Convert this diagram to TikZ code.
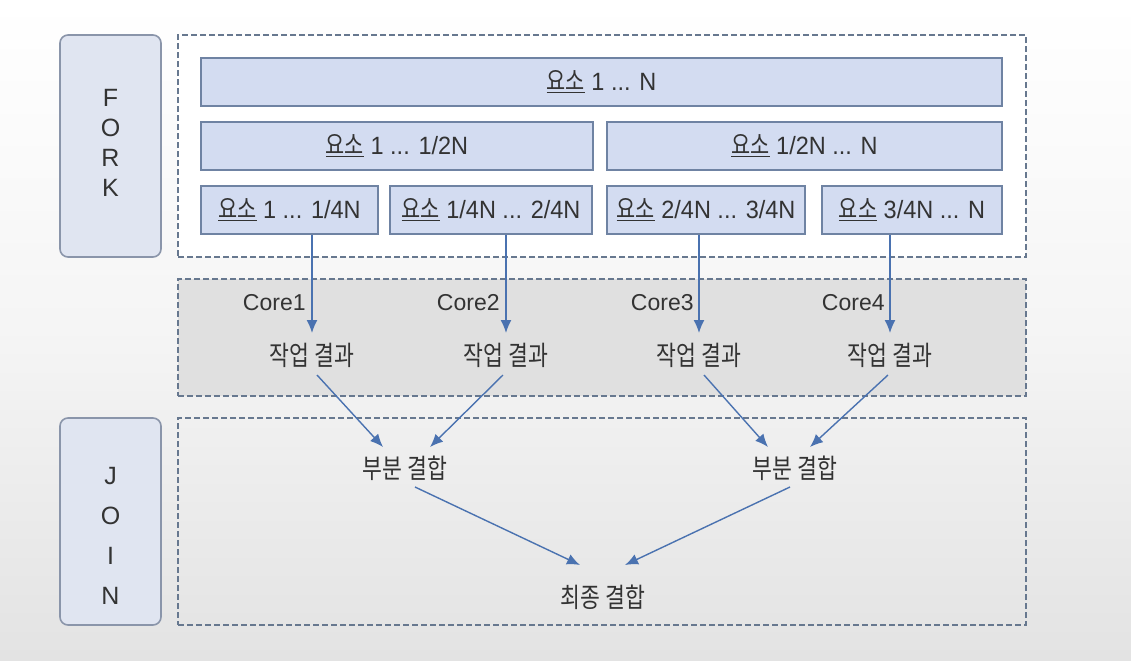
\documentclass[tikz,border=0pt]{standalone}
\usepackage{fontspec}
\setmainfont{Liberation Sans}
\newfontfamily\latn[FakeStretch=0.94]{Liberation Sans}
\newfontfamily\kr[FakeStretch=0.8]{Noto Sans CJK KR}
\usetikzlibrary{arrows.meta,calc}
\definecolor{txt}{HTML}{333333}
\definecolor{boxfill}{HTML}{D3DCF1}
\definecolor{boxline}{HTML}{6F83A3}
\definecolor{lblfill}{HTML}{E0E5F1}
\definecolor{lblline}{HTML}{8A95AA}
\definecolor{dashline}{HTML}{67788F}
\definecolor{corefill}{HTML}{E0E0E0}
\definecolor{arrcol}{HTML}{4A72B0}
\newcommand\yoso{\underline{\kr\fontsize{13}{14}\selectfont 요소}}
\begin{document}
\begin{tikzpicture}[x=0.5pt,y=-0.5pt,
  every node/.style={text=txt, font=\fontsize{11.5}{13}\selectfont},
  lblbox/.style={draw=lblline, line width=0.8pt, fill=lblfill, rounded corners=4pt, minimum width=50.5pt, inner sep=0pt},
  dbox/.style={draw=dashline, line width=0.7pt, dash pattern=on 3pt off 1.5pt, minimum width=424pt, inner sep=0pt},
  elem/.style={draw=boxline, line width=0.8pt, fill=boxfill, minimum height=24pt, inner sep=0pt, font=\latn\fontsize{12.5}{14}\selectfont},
  kt/.style={font=\kr\fontsize{13.5}{15}\selectfont, inner sep=0pt},
  letters/.style={align=center, font=\fontsize{12.5}{15}\selectfont, inner sep=0pt},
  arr/.style={draw=arrcol, line width=0.7pt, -{Latex[length=6.5pt,width=5.5pt]}}
]
\useasboundingbox (0,0) rectangle (1131,660);
\shade[top color=white, bottom color=black!11, middle color=black!4] (0,0) rectangle (1131,660);

% FORK
\node[lblbox, minimum height=111pt] (forkbox) at (110.5,146) {};
\node[letters] (forklbl) at (110.5,143) {F\\O\\R\\K};
\node[dbox, fill=white, minimum height=111pt] (forkarea) at (602,146) {};

\node[elem, minimum width=400.5pt] (all) at (601.5,82) {\yoso{} 1 ... N};
\node[elem, minimum width=196pt] (h1) at (397,146) {\yoso{} 1 ... 1/2N};
\node[elem, minimum width=197.5pt] (h2) at (804.5,146) {\yoso{} 1/2N ... N};
\node[elem, minimum width=88.5pt] (q1) at (289.5,210) {\yoso{} 1 ... 1/4N};
\node[elem, minimum width=101pt] (q2) at (491,210) {\yoso{} 1/4N ... 2/4N};
\node[elem, minimum width=99pt] (q3) at (706,210) {\yoso{} 2/4N ... 3/4N};
\node[elem, minimum width=90pt] (q4) at (912,210) {\yoso{} 3/4N ... N};

% Cores
\node[dbox, fill=corefill, minimum height=58.5pt] (corearea) at (602,337.5) {};
\node[kt] (r1) at (312,355) {작업 결과};
\node[kt] (r2) at (506,355) {작업 결과};
\node[kt] (r3) at (699,355) {작업 결과};
\node[kt] (r4) at (890,355) {작업 결과};
\node[anchor=east, inner sep=0pt] (c1) at (306,303) {Core1};
\node[anchor=east, inner sep=0pt] (c2) at (500,303) {Core2};
\node[anchor=east, inner sep=0pt] (c3) at (694,303) {Core3};
\node[anchor=east, inner sep=0pt] (c4) at (885,303) {Core4};

% JOIN
\node[lblbox, minimum height=103.5pt] (joinbox) at (110.5,521.5) {};
\node[letters] (joinlbl) at (110.5,536) {J\\[5pt]O\\[5pt]I\\[5pt]N};
\node[dbox, minimum height=103.5pt] (joinarea) at (602,521.5) {};
\node[kt] (pl) at (405,468) {부분 결합};
\node[kt] (pr) at (795,468) {부분 결합};
\node[kt] (fin) at (603,597) {최종 결합};

% arrows
\draw[arr] (q1.south -| r1) -- ($(r1)+(0,-22)$);
\draw[arr] (q2.south -| r2) -- ($(r2)+(0,-22)$);
\draw[arr] (q3.south -| r3) -- ($(r3)+(0,-22)$);
\draw[arr] (q4.south -| r4) -- ($(r4)+(0,-22)$);

\draw[arr] ($(r1)+(5,20)$) -- ($(pl)+(-22,-21)$);
\draw[arr] ($(r2)+(-3,20)$) -- ($(pl)+(25,-21)$);
\draw[arr] ($(r3)+(5,20)$) -- ($(pr)+(-27,-21)$);
\draw[arr] ($(r4)+(-2,20)$) -- ($(pr)+(15,-21)$);
\draw[arr] ($(pl)+(10,19)$) -- ($(fin)+(-23,-32)$);
\draw[arr] ($(pr)+(-5,19)$) -- ($(fin)+(22,-32)$);
\end{tikzpicture}
\end{document}
